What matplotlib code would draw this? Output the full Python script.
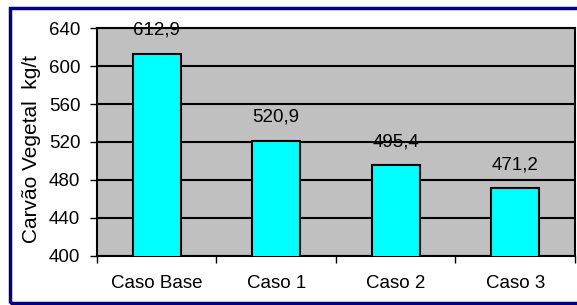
import matplotlib.pyplot as plt
from matplotlib.patches import Rectangle

casos = ["Caso Base", "Caso 1", "Caso 2", "Caso 3"]
carvao = [612.9, 520.9, 495.4, 471.2]
rotulos = ["612,9", "520,9", "495,4", "471,2"]

plt.rcParams['font.family'] = ['Liberation Sans', 'DejaVu Sans']
FS = 13.5

fig = plt.figure(figsize=(5.77, 3.05), dpi=100)
ax = fig.add_axes([0.168, 0.161, 0.8285, 0.747])

# moldura azul da figura
fig.patches.append(Rectangle((10/577, 2.5/305), 1.0, 295/305, transform=fig.transFigure,
                             fill=False, edgecolor='#000080', linewidth=2.5, zorder=10))

ax.set_facecolor('#C0C0C0')
x = range(len(casos))
ax.bar(x, carvao, width=0.4, bottom=0, color='#00FFFF', edgecolor='black', linewidth=1.5, zorder=3)
for i, v in enumerate(carvao):
    ax.text(i, v + 25, rotulos[i], ha='center', va='center', fontsize=FS, zorder=4)

ax.set_ylim(400, 640)
ax.set_xlim(-0.5, 3.5)
ax.set_yticks(range(400, 641, 40))
ax.yaxis.grid(True, color='black', linewidth=1.5, zorder=1)
ax.set_axisbelow(True)
ax.set_xticks(list(x))
ax.set_xticklabels(casos)
ax.set_xticks([-0.5, 0.5, 1.5, 2.5, 3.5], minor=True)
ax.tick_params(axis='x', which='major', length=0, pad=14, labelsize=FS)
ax.tick_params(axis='x', which='minor', length=5, width=1, direction='out')
ax.tick_params(axis='y', length=5, width=1, labelsize=FS, pad=7)
for s in ax.spines.values():
    s.set_linewidth(1.5)
ax.set_ylabel("Carvão Vegetal  kg/t", fontsize=15)
ax.yaxis.set_label_coords(-0.118, 0.47)

fig.savefig("out.png", dpi=100)
